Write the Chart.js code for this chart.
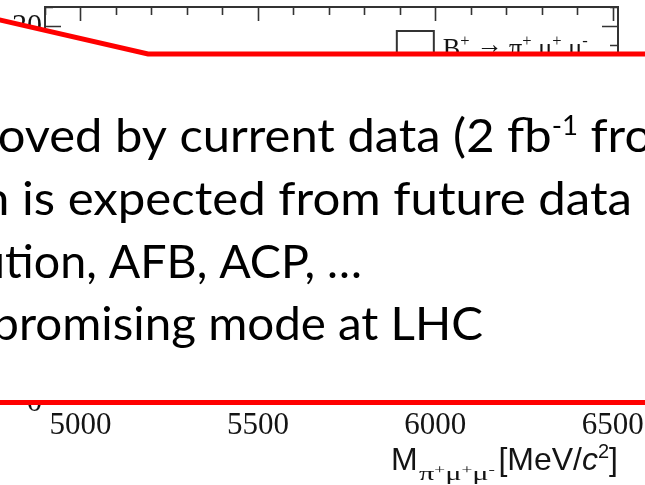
<!DOCTYPE html>
<html>
<head>
<meta charset="utf-8">
<script src="https://cdn.jsdelivr.net/npm/chart.js@4.4.1/dist/chart.umd.min.js"></script>
<style>
html,body{margin:0;padding:0;background:#fff;overflow:hidden;}
#wrap{width:645px;height:485px;position:relative;}
</style>
</head>
<body>
<div id="wrap"><canvas id="c" width="645" height="485"></canvas></div>
<script>
// ---- chart values ----
const seriesLabels = ['B+ \u2192 \u03c0+ \u03bc+ \u03bc-'];
const xTickValues = [5000, 5500, 6000, 6500];
const xRange = [4900, 6515];
const xMinorStep = [100];
const yTickValues = [0, 5, 10, 15, 20];
const yRange = [0, 21];
const yMinorStep = [1];
const histCounts = []; // histogram bins are entirely hidden behind the slide text box
const xTitleParts = ['M', '\u03c0', '+', '\u03bc', '+', '\u03bc', '-', '[MeV/', 'c', '2', ']'];
// ---- slide overlay text ----
const slideText = [
  ['oved by current data (2 fb', '-1', ' fro'],
  ['n is expected from future data'],
  ['ution, AFB, ACP, \u2026'],
  ['promising mode at LHC']
];

const SERIF = 'Liberation Serif';
const SANS = 'Liberation Sans';
const SLIDE_FONT = 'Lato';
const INK = '#141414';

const framePlugin = {
  id: 'frame',
  afterDatasetsDraw(chart) {
    const ctx = chart.ctx;
    const {left, right, top, bottom} = chart.chartArea;
    const xs = chart.scales.x, ys = chart.scales.y;
    ctx.save();
    ctx.strokeStyle = '#333';
    ctx.lineWidth = 1.6;
    ctx.beginPath();
    for (let v = xRange[0]; v <= xRange[1]; v += xMinorStep[0]) {
      const px = Math.round(xs.getPixelForValue(v)) + 0.5;
      const L = (v % 500 === 0) ? 14 : 8;
      ctx.moveTo(px, top); ctx.lineTo(px, top + L);
      ctx.moveTo(px, bottom); ctx.lineTo(px, bottom - L);
    }
    for (let v = yRange[0]; v <= yRange[1]; v += yMinorStep[0]) {
      const py = Math.round(ys.getPixelForValue(v)) + 0.5;
      const L = (v % 5 === 0) ? 16 : 8;
      ctx.moveTo(left, py); ctx.lineTo(left + L, py);
      ctx.moveTo(right, py); ctx.lineTo(right - L, py);
    }
    ctx.stroke();
    ctx.lineWidth = 2;
    ctx.strokeRect(left, top, right - left, bottom - top);

    // legend (box + label) placed inside the frame
    const w = right - left;
    const bx = left + 0.614 * w, by = top + 24;
    ctx.lineWidth = 2;
    ctx.strokeRect(bx, by, 37, 32);
    drawRich(ctx, [
      ['B', 27, 0], ['+', 17, -11], [' ', 27, 0], ['\u2192', 27, -4], [' ', 27, 0], ['\u03c0', 27, 0], ['+', 17, -11],
      [' \u03bc', 27, 0], ['+', 17, -11], [' \u03bc', 27, 0], ['-', 17, -11]
    ], bx + 46, top + 50, SERIF, INK, 145);
    ctx.restore();
  },
  afterDraw(chart) {
    const ctx = chart.ctx;
    ctx.save();
    // slide callout box covering the plot
    ctx.beginPath();
    ctx.moveTo(-10, 17.7);
    ctx.lineTo(148, 54);
    ctx.lineTo(660, 54);
    ctx.lineTo(660, 402.5);
    ctx.lineTo(-10, 402.5);
    ctx.closePath();
    ctx.fillStyle = '#fff';
    ctx.fill();
    ctx.strokeStyle = '#ff0000';
    ctx.lineWidth = 5;
    ctx.stroke();

    // slide text (two horizontal anchors per line; null a2 = end of line)
    const FS = 46;
    const layout = [
      {base: 152, a1: 'by', x1: 115, a2: 'fb', x2: 507},
      {base: 215, a1: 'is', x1: 22, a2: null, x2: 632},
      {base: 278, a1: 'tion', x1: 5, a2: null, x2: 362},
      {base: 340, a1: 'romising', x1: 19, a2: null, x2: 483}
    ];
    ctx.fillStyle = '#000';
    ctx.textBaseline = 'alphabetic';
    ctx.textAlign = 'left';
    slideText.forEach((parts, i) => {
      const L = layout[i];
      const main = parts[0];
      ctx.font = FS + 'px ' + SLIDE_FONT;
      const w1 = ctx.measureText(main.slice(0, main.indexOf(L.a1))).width;
      const w2 = L.a2 ? ctx.measureText(main.slice(0, main.indexOf(L.a2))).width : ctx.measureText(main).width;
      const s = (L.x2 - L.x1) / (w2 - w1);
      const ox = L.x1 - w1 * s;
      ctx.save();
      ctx.translate(ox, L.base);
      ctx.scale(s, 1);
      let x = 0;
      parts.forEach((t, k) => {
        const sup = (k === 1);
        ctx.font = (sup ? Math.round(FS * 0.56) : FS) + 'px ' + SLIDE_FONT;
        ctx.fillText(t, x, sup ? -FS * 0.36 : 0);
        x += ctx.measureText(t).width;
      });
      ctx.restore();
    });

    // x-axis title  M_{pi+ mu+ mu-} [MeV/c^2]
    const right = chart.chartArea.right;
    ctx.fillStyle = INK;
    ctx.font = '32px ' + SANS;
    ctx.fillText(xTitleParts[0], 391, 470);
    drawRich(ctx, [
      [xTitleParts[1], 19, 0], [xTitleParts[2], 12, -6], [xTitleParts[3], 19, 0], [xTitleParts[4], 12, -6],
      [xTitleParts[5], 19, 0], [xTitleParts[6], 12, -6]
    ], 419, 480, SERIF, INK, 76);
    // units, right-aligned to the frame
    const unitParts = [[xTitleParts[7], '32px ' + SANS, 0], [xTitleParts[8], 'italic 32px ' + SANS, 0],
                       [xTitleParts[9], '20px ' + SANS, -12], [xTitleParts[10], '32px ' + SANS, 0]];
    let tw = 0;
    unitParts.forEach(p => { ctx.font = p[1]; tw += ctx.measureText(p[0]).width; });
    let ux = right - tw;
    unitParts.forEach(p => { ctx.font = p[1]; ctx.fillText(p[0], ux, 470 + p[2]); ux += ctx.measureText(p[0]).width; });
    ctx.restore();
  }
};

function drawRich(ctx, parts, x0, base, family, color, targetW) {
  ctx.save();
  ctx.fillStyle = color;
  ctx.textBaseline = 'alphabetic';
  ctx.textAlign = 'left';
  let tw = 0;
  parts.forEach(p => { ctx.font = p[1] + 'px ' + family; tw += ctx.measureText(p[0]).width; });
  const s = targetW ? targetW / tw : 1;
  ctx.translate(x0, base);
  ctx.scale(s, 1);
  let x = 0;
  parts.forEach(p => { ctx.font = p[1] + 'px ' + family; ctx.fillText(p[0], x, p[2]); x += ctx.measureText(p[0]).width; });
  ctx.restore();
}

new Chart(document.getElementById('c'), {
  type: 'bar',
  data: {
    datasets: [{
      label: seriesLabels[0],
      data: histCounts,
      backgroundColor: 'rgba(0,0,0,0)',
      borderColor: '#333',
      borderWidth: 1
    }]
  },
  options: {
    responsive: false,
    animation: false,
    devicePixelRatio: 1,
    layout: {padding: {top: 7, right: 27, left: 0, bottom: 0}},
    plugins: {legend: {display: false}, tooltip: {enabled: false}},
    scales: {
      x: {
        type: 'linear',
        offset: false,
        min: xRange[0], max: xRange[1],
        afterBuildTicks: s => { s.ticks = xTickValues.map(v => ({value: v})); },
        afterFit: s => { s.height = 82; s.paddingLeft = 0; s.paddingRight = 0; },
        grid: {display: false, drawTicks: false, offset: false},
        border: {display: false},
        ticks: {
          font: {family: SERIF, size: 31},
          color: INK, padding: 4, maxRotation: 0, autoSkip: false,
          callback: v => String(v)
        }
      },
      y: {
        type: 'linear',
        min: yRange[0], max: yRange[1],
        afterBuildTicks: s => { s.ticks = yTickValues.map(v => ({value: v})); },
        afterFit: s => { s.width = 45; s.paddingTop = 0; s.paddingBottom = 0; },
        grid: {display: false, drawTicks: false},
        border: {display: false},
        ticks: {
          font: {family: SERIF, size: 30},
          color: INK, padding: 3,
          callback: v => String(v)
        }
      }
    }
  },
  plugins: [framePlugin]
});
</script>
</body>
</html>
